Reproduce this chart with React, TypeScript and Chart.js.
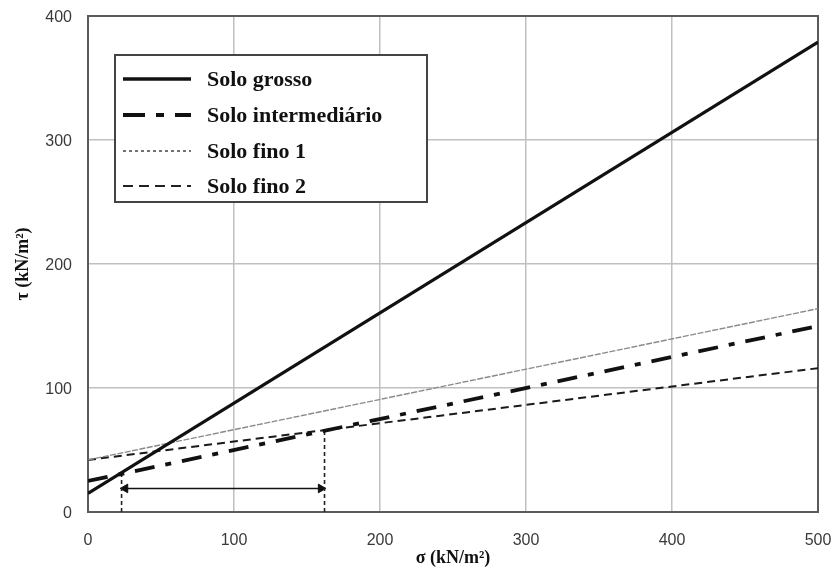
import React, { useEffect, useRef } from "react";
import { Chart, registerables } from "chart.js";

Chart.register(...registerables);

// σ range (kN/m²)
const sigma = [0, 500];
// τ (kN/m²) at σ = 0 and σ = 500
const grosso = [15, 379];
const intermediario = [25, 150];
const fino1 = [42, 164];
const fino2 = [42, 116];

// range annotation
const rangeSigma = [23, 162];
const rangeTop = [31, 65];
const arrowTau = 19;

const seriesNames = ["Solo grosso", "Solo intermediário", "Solo fino 1", "Solo fino 2"];

const xTitle = "σ (kN/m²)";
const yTitle = "τ (kN/m²)";

const pts = (vals: number[]) => sigma.map((s, i) => ({ x: s, y: vals[i] }));

const legendStyles = [
  { dash: [] as number[], width: 3.5, color: "#111" },
  { dash: [22, 11, 8, 11], width: 4, color: "#111" },
  { dash: [3, 3], width: 1.5, color: "#444" },
  { dash: [10, 6], width: 2, color: "#222" },
];

const framePlugin = {
  id: "frame",
  beforeDatasetsDraw(chart: any) {
    const { ctx, chartArea: a } = chart;
    ctx.save();
    ctx.strokeStyle = "#5a5a5a";
    ctx.lineWidth = 2;
    ctx.strokeRect(a.left, a.top, a.right - a.left, a.bottom - a.top);
    ctx.restore();
  },
};

const legendPlugin = {
  id: "boxLegend",
  afterDraw(chart: any) {
    const { ctx } = chart;
    const x0 = 115, y0 = 55, x1 = 427, y1 = 202;
    ctx.save();
    ctx.fillStyle = "#fff";
    ctx.fillRect(x0, y0, x1 - x0, y1 - y0);
    ctx.strokeStyle = "#444";
    ctx.lineWidth = 2;
    ctx.strokeRect(x0, y0, x1 - x0, y1 - y0);
    const rows = [79, 115, 151, 186];
    seriesNames.forEach((name, i) => {
      const st = legendStyles[i];
      ctx.beginPath();
      ctx.setLineDash(st.dash);
      ctx.lineWidth = st.width;
      ctx.strokeStyle = st.color;
      ctx.moveTo(123, rows[i]);
      ctx.lineTo(191, rows[i]);
      ctx.stroke();
      ctx.setLineDash([]);
      ctx.fillStyle = "#111";
      ctx.font = "bold 22px 'Liberation Serif', 'DejaVu Serif', serif";
      ctx.textBaseline = "middle";
      ctx.textAlign = "left";
      ctx.fillText(name, 207, rows[i] + 1);
    });
    ctx.restore();
  },
};

export default function App() {
  const ref = useRef<HTMLCanvasElement | null>(null);

  useEffect(() => {
    document.body.style.margin = "0";
    const canvas = ref.current;
    if (!canvas) return;
    const tickFont = { family: "'Liberation Sans', Arial, sans-serif", size: 16 };
    const titleFont = { family: "'Liberation Serif', 'Times New Roman', serif", size: 18, weight: "bold" as const };
    const chart = new Chart(canvas, {
      type: "line",
      data: {
        datasets: [
          {
            label: seriesNames[0],
            data: pts(grosso),
            borderColor: "#111",
            borderWidth: 3.2,
            pointRadius: 0,
          },
          {
            label: seriesNames[1],
            data: pts(intermediario),
            borderColor: "#111",
            borderWidth: 3.8,
            borderDash: [20, 11, 6, 11],
            pointRadius: 0,
          },
          {
            label: seriesNames[2],
            data: pts(fino1),
            borderColor: "#8a8a8a",
            borderWidth: 1.4,
            borderDash: [6, 1.5],
            pointRadius: 0,
          },
          {
            label: seriesNames[3],
            data: pts(fino2),
            borderColor: "#1a1a1a",
            borderWidth: 2,
            borderDash: [8, 5],
            pointRadius: 0,
          },
          {
            label: "guide1",
            data: [
              { x: rangeSigma[0], y: 0 },
              { x: rangeSigma[0], y: rangeTop[0] },
            ],
            borderColor: "#222",
            borderWidth: 1.6,
            borderDash: [4, 3],
            pointRadius: 0,
          },
          {
            label: "guide2",
            data: [
              { x: rangeSigma[1], y: 0 },
              { x: rangeSigma[1], y: rangeTop[1] },
            ],
            borderColor: "#222",
            borderWidth: 1.6,
            borderDash: [4, 3],
            pointRadius: 0,
          },
          {
            label: "arrow",
            data: [
              { x: rangeSigma[0] + 2.5, y: arrowTau },
              { x: rangeSigma[1] - 2.5, y: arrowTau },
            ],
            borderColor: "#111",
            borderWidth: 1.6,
            pointStyle: "triangle",
            pointRotation: [270, 90],
            pointRadius: 5,
            pointBackgroundColor: "#111",
            pointBorderColor: "#111",
            pointBorderWidth: 1,
          },
        ],
      },
      options: {
        responsive: false,
        animation: false,
        events: [],
        layout: { padding: { left: 0, top: 16, right: 19, bottom: 0 } },
        plugins: { legend: { display: false }, tooltip: { enabled: false } },
        scales: {
          x: {
            type: "linear",
            min: 0,
            max: 500,
            afterFit: (s: any) => {
              s.height = 57;
              s.paddingLeft = 0;
              s.paddingRight = 0;
            },
            ticks: { stepSize: 100, color: "#3a3a3a", font: tickFont, padding: 19, maxRotation: 0 },
            grid: { color: "#c0c0c0", lineWidth: 1.5, drawTicks: false },
            border: { display: true, color: "#5a5a5a", width: 2 },
            title: { display: true, text: xTitle, color: "#111", font: titleFont, padding: { top: 0, bottom: 0 } },
          },
          y: {
            type: "linear",
            min: 0,
            max: 400,
            afterFit: (s: any) => {
              s.width = 88;
              s.paddingTop = 0;
              s.paddingBottom = 0;
            },
            ticks: { stepSize: 100, color: "#3a3a3a", font: tickFont, padding: 16, labelOffset: 2 },
            grid: { color: "#c0c0c0", lineWidth: 1.5, drawTicks: false },
            border: { display: true, color: "#5a5a5a", width: 2 },
            title: { display: true, text: yTitle, color: "#111", font: titleFont, padding: { top: 13, bottom: 0 } },
          },
        },
      },
      plugins: [framePlugin, legendPlugin],
    });
    return () => chart.destroy();
  }, []);

  return (
    <div style={{ width: 837, height: 569, background: "#fff" }}>
      <canvas ref={ref} width={837} height={569} style={{ display: "block" }} />
    </div>
  );
}
